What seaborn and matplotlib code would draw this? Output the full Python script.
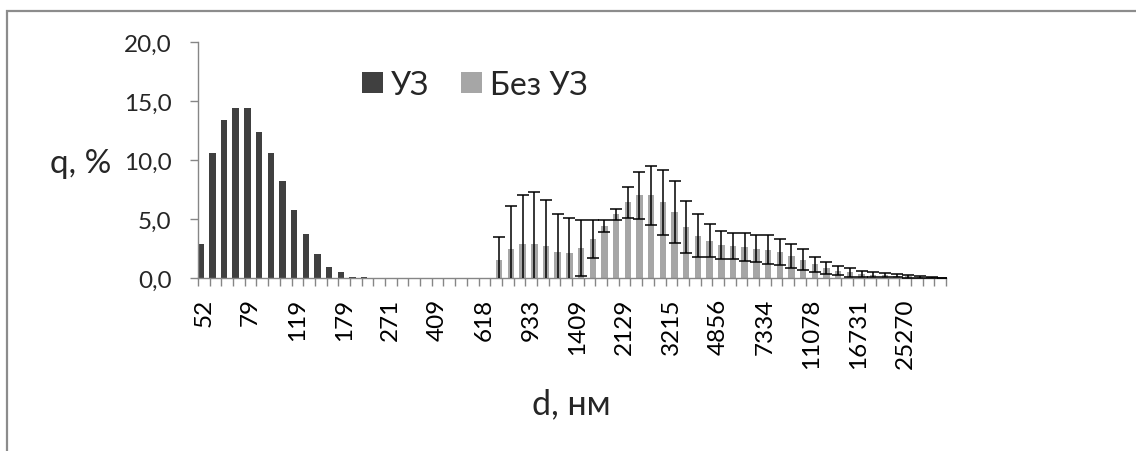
import numpy as np
import pandas as pd
import matplotlib
matplotlib.use("Agg")
import matplotlib.pyplot as plt
from matplotlib.patches import Rectangle
from matplotlib.ticker import FuncFormatter
import seaborn as sns

# Particle diameter classes, nm
diameters = [
    52, 58, 64, 71, 79, 88, 97, 107, 119, 132, 146, 162, 179, 199, 220, 244,
    271, 300, 333, 369, 409, 453, 503, 557, 618, 685, 759, 842, 933, 1034,
    1147, 1271, 1409, 1562, 1732, 1920, 2129, 2360, 2616, 2900, 3215, 3564,
    3951, 4380, 4856, 5383, 5968, 6616, 7334, 8131, 9014, 9993, 11078, 12281,
    13614, 15093, 16731, 18548, 20562, 22795, 25270, 28014, 31056, 34428,
]

# Volume fraction q, % — with ultrasound
q_uz = [2.9, 10.6, 13.4, 14.4, 14.4, 12.4, 10.6, 8.2, 5.8, 3.7, 2.0, 0.9, 0.5,
        0.1, 0.1] + [0.0] * 49

# Volume fraction q, % — without ultrasound
q_bez = [0.0] * 25 + [
    1.5, 2.5, 2.9, 2.9, 2.7, 2.2, 2.1, 2.55, 3.3, 4.4, 5.4, 6.4, 7.0, 7.0,
    6.4, 5.6, 4.3, 3.6, 3.15, 2.8, 2.7, 2.6, 2.5, 2.4, 2.2, 1.85, 1.55, 1.15,
    0.88, 0.62, 0.47, 0.35, 0.28, 0.22, 0.18, 0.14, 0.1, 0.05, 0.02,
]

# Standard deviation for the series without ultrasound
err_bez = [0.0] * 25 + [
    2.0, 3.6, 4.1, 4.35, 3.9, 3.2, 3.0, 2.4, 1.6, 0.5, 0.45, 1.28, 2.0, 2.5,
    2.77, 2.6, 2.2, 1.84, 1.4, 1.2, 1.13, 1.18, 1.15, 1.22, 1.13, 1.03, 0.88,
    0.66, 0.5, 0.4, 0.35, 0.27, 0.22, 0.17, 0.13, 0.1, 0.08, 0.05, 0.02,
]

series_names = ["УЗ", "Без УЗ"]
y_ticks = [0, 5, 10, 15, 20]

sns.set_style("white")
plt.rcParams["font.family"] = ["Lato", "DejaVu Sans"]

labels = [str(d) for d in diameters]
df = pd.DataFrame({
    "d": labels * 2,
    "series": [series_names[0]] * len(labels) + [series_names[1]] * len(labels),
    "q": q_uz + q_bez,
})

W, H = 1136, 452
fig = plt.figure(figsize=(W / 100, H / 100), dpi=100)
ax = fig.add_axes([198 / W, 1 - 279 / H, (946 - 198) / W, (279 - 43) / H])

sns.barplot(
    data=df, x="d", y="q", hue="series", order=labels, hue_order=series_names,
    palette=["#404040", "#a6a6a6"], width=1.1, errorbar=None, saturation=1,
    linewidth=0, edgecolor="none", ax=ax,
)

# Error bars on the grey series, centred on its bars
bars = ax.containers[1]
xs = np.array([p.get_x() + p.get_width() / 2 for p in bars])
qb = np.array(q_bez)
eb = np.array(err_bez)
m = eb > 0
ax.errorbar(xs[m], qb[m], yerr=eb[m], fmt="none", ecolor="#000000",
            elinewidth=1.1, capsize=4.4, capthick=1.1, zorder=3)

ax.set_xlim(-0.5, len(labels) - 0.5)
ax.set_ylim(0, 20)
ax.set_yticks(y_ticks)
ax.yaxis.set_major_formatter(FuncFormatter(lambda v, _: f"{v:.1f}".replace(".", ",")))

ax.set_xticks(range(0, len(labels), 4))
ax.set_xticklabels(labels[::4], rotation=90, va="top", ha="center")
ax.set_xticks(np.arange(-0.5, len(labels), 1), minor=True)
ax.tick_params(axis="x", which="major", length=0, pad=14, labelsize=17.5, colors="#000000")
ax.tick_params(axis="x", which="minor", length=6, width=1, color="#868686", bottom=True)
ax.tick_params(axis="y", which="major", length=6, width=1, color="#868686",
               pad=13, labelsize=17.5, left=True)
ax.set_xlabel("")
ax.set_ylabel("")

for s in ("top", "right"):
    ax.spines[s].set_visible(False)
for s in ("left", "bottom"):
    ax.spines[s].set_color("#868686")
    ax.spines[s].set_linewidth(1)

handles, leg_labels = ax.get_legend_handles_labels()
ax.legend(handles, leg_labels, loc="center left",
          bbox_to_anchor=(362 / W, 1 - 86 / H), bbox_transform=fig.transFigure,
          ncol=2, frameon=False, fontsize=23, handlelength=0.65, handleheight=0.65,
          handletextpad=0.25, columnspacing=1.0, borderpad=0, borderaxespad=0)

fig.text(81 / W, 1 - 164 / H, "q, %", ha="center", va="center", fontsize=24)
fig.text(571 / W, 1 - 404 / H, "d, нм", ha="center", va="center", fontsize=24.5)

# Chart border
fig.add_artist(Rectangle((7 / W, -0.1), 1.2, (1 - 12 / H) + 0.1,
                         transform=fig.transFigure, fill=False,
                         edgecolor="#8c8c8c", linewidth=1.6))

fig.savefig("out.png", dpi=100)
